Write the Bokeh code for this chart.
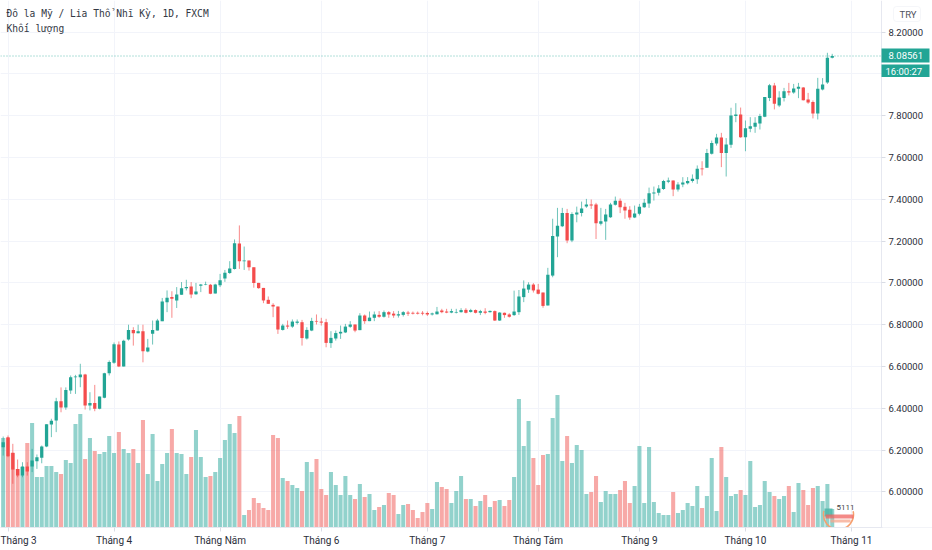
from bokeh.plotting import figure
from bokeh.embed import file_html
from bokeh.resources import INLINE
from bokeh.models import (ColumnDataSource, FixedTicker, Range1d, Label, Span, BoxAnnotation)

# ---- data: USD/TRY daily, index 0 = first session of March 2020
first_index = -1
opens = [6.214,6.262,6.187,6.110,6.078,6.121,6.121,6.147,6.163,6.217,6.322,6.342,6.434,6.404,6.485,6.549,6.549,6.562,6.413,6.425,6.398,6.45,6.568,6.618,6.705,6.60,6.729,6.775,6.759,6.769,6.672,6.757,6.772,6.817,6.908,6.932,6.916,
         6.943,6.975,6.983,6.946,6.986,6.990,6.991,6.949,6.989,7.021,7.047,7.067,7.189,7.104,7.107,7.075,7.0,6.976,6.919,6.895,6.887,6.775,6.796,6.791,6.809,6.812,6.734,6.772,6.818,6.815,6.812,6.712,6.734,6.758,6.763,6.79,
         6.801,6.774,6.844,6.817,6.833,6.847,6.838,6.86,6.853,6.844,6.847,6.858,6.857,6.857,6.857,6.856,6.849,6.85,6.868,6.863,6.858,6.858,6.86,6.871,6.861,6.87,6.857,6.863,6.86,6.865,6.82,6.857,6.849,6.846,6.86,6.932,6.968,6.992,6.968,6.954,6.892,7.035,7.222,7.271,7.334,7.203,7.327,7.334,7.365,7.375,7.375,7.283,7.294,7.314,7.374,
         7.393,7.364,7.35,7.313,7.331,7.362,7.38,7.428,7.431,7.449,7.484,7.49,7.447,7.471,7.477,7.487,7.496,7.547,7.551,7.618,7.667,7.696,7.621,7.661,7.798,7.806,7.697,7.737,7.747,7.763,7.795,7.885,7.945,7.849,7.885,7.917,7.911,7.929,7.935,7.878,7.866,7.811,7.925,7.959,8.077]
highs = [6.265,6.270,6.23,6.155,6.142,6.142,6.206,6.179,6.222,6.324,6.35,6.45,6.50,6.50,6.557,6.56,6.613,6.565,6.477,6.512,6.456,6.57,6.629,6.715,6.72,6.728,6.80,6.788,6.80,6.80,6.732,6.82,6.828,6.928,6.964,6.96,6.98,
         7.004,7.015,7.004,7.0,6.995,7.006,6.995,6.996,7.043,7.062,7.104,7.208,7.275,7.174,7.107,7.075,7.0,6.976,6.935,6.903,6.887,6.804,6.82,6.825,6.825,6.823,6.788,6.833,6.849,6.833,6.828,6.769,6.772,6.796,6.804,6.817,
         6.801,6.855,6.849,6.863,6.863,6.865,6.868,6.865,6.865,6.866,6.865,6.866,6.863,6.863,6.865,6.863,6.858,6.885,6.876,6.876,6.876,6.876,6.879,6.879,6.876,6.873,6.871,6.879,6.868,6.868,6.86,6.858,6.855,6.963,6.966,7.012,7.003,6.999,6.995,6.954,7.072,7.307,7.359,7.359,7.354,7.338,7.365,7.389,7.402,7.399,7.383,7.359,7.354,7.383,7.413,
         7.404,7.383,7.367,7.37,7.378,7.402,7.456,7.461,7.468,7.493,7.504,7.49,7.482,7.506,7.506,7.519,7.562,7.582,7.641,7.681,7.713,7.718,7.693,7.838,7.86,7.839,7.777,7.793,7.793,7.809,7.889,7.952,7.957,7.917,7.933,7.957,7.952,7.957,7.937,7.909,7.873,7.981,7.98,8.101,8.096]
lows = [6.174,6.166,6.039,6.07,6.07,6.078,6.095,6.11,6.137,6.214,6.262,6.286,6.381,6.393,6.469,6.469,6.501,6.394,6.39,6.386,6.395,6.448,6.557,6.613,6.597,6.60,6.724,6.70,6.759,6.62,6.668,6.705,6.772,6.817,6.86,6.833,6.88,
        6.943,6.964,6.927,6.943,6.956,6.989,6.946,6.949,6.98,7.005,7.043,7.064,7.067,7.062,7.059,6.977,6.972,6.903,6.9,6.836,6.756,6.772,6.78,6.785,6.801,6.7,6.729,6.769,6.801,6.796,6.692,6.689,6.724,6.732,6.76,6.785,
        6.764,6.774,6.804,6.817,6.817,6.833,6.834,6.833,6.833,6.834,6.839,6.842,6.849,6.849,6.845,6.842,6.844,6.849,6.855,6.855,6.855,6.854,6.858,6.854,6.858,6.854,6.846,6.85,6.858,6.818,6.818,6.833,6.834,6.842,6.847,6.908,6.952,6.954,6.945,6.881,6.892,7.027,7.123,7.267,7.19,7.195,7.29,7.318,7.359,7.354,7.21,7.275,7.206,7.311,7.37,
        7.334,7.307,7.302,7.31,7.323,7.359,7.359,7.394,7.418,7.445,7.477,7.415,7.437,7.458,7.471,7.48,7.474,7.514,7.551,7.614,7.657,7.554,7.509,7.646,7.769,7.694,7.63,7.721,7.718,7.734,7.793,7.87,7.83,7.841,7.868,7.897,7.905,7.884,7.873,7.857,7.787,7.782,7.921,7.952,8.074]
closes = [6.238,6.171,6.107,6.078,6.121,6.098,6.15,6.166,6.217,6.324,6.34,6.434,6.404,6.487,6.549,6.552,6.562,6.413,6.425,6.398,6.456,6.568,6.622,6.707,6.60,6.723,6.775,6.759,6.769,6.673,6.691,6.775,6.82,6.911,6.929,6.924,6.945,
          6.975,6.981,6.944,6.959,6.992,6.992,6.948,6.992,7.013,7.048,7.069,7.19,7.104,7.107,7.075,6.999,6.975,6.916,6.9,6.887,6.777,6.796,6.791,6.815,6.815,6.736,6.775,6.818,6.815,6.81,6.713,6.737,6.76,6.766,6.791,6.801,
          6.772,6.844,6.817,6.834,6.849,6.838,6.86,6.849,6.844,6.85,6.86,6.853,6.853,6.853,6.853,6.849,6.854,6.863,6.86,6.858,6.865,6.861,6.87,6.857,6.87,6.857,6.865,6.857,6.866,6.82,6.858,6.846,6.838,6.863,6.935,6.973,6.992,6.964,6.948,6.89,7.039,7.224,7.274,7.334,7.203,7.33,7.337,7.356,7.375,7.37,7.286,7.295,7.327,7.375,7.393,
          7.362,7.346,7.313,7.332,7.364,7.383,7.429,7.433,7.452,7.488,7.49,7.447,7.471,7.48,7.488,7.498,7.546,7.544,7.621,7.669,7.696,7.622,7.662,7.801,7.806,7.697,7.74,7.75,7.766,7.798,7.889,7.946,7.857,7.887,7.917,7.911,7.93,7.938,7.874,7.863,7.811,7.929,7.949,8.077,8.086]
volumes = [89,89,74,58,60,84,104,50,50,61,61,55,53,67,64,103,113,68,89,76,73,75,91,74,95,78,74,78,64,107,53,93,46,63,74,98,74,73,53,70,97,70,50,51,55,69,87,103,
           94,111,12,17,29,24,19,17,92,89,49,46,42,39,36,65,55,68,38,32,55,42,32,51,32,28,43,30,33,17,20,22,34,32,13,22,23,17,9,15,24,18,45,40,38,24,36,51,28,28,21,26,32,20,26,27,21,27,50,128,81,106,
           69,42,72,73,109,132,66,91,64,82,77,33,35,51,25,36,33,33,37,46,24,41,81,24,80,25,14,12,12,35,14,17,24,21,41,19,31,69,16,80,50,31,33,37,32,66,20,22,46,35,31,28,31,41,15,44,37,22,39,41,26,43,18]
month_ticks = [0, 22, 44, 65, 87, 110, 131, 153, 175]
month_labels = ["Tháng 3", "Tháng 4", "Tháng Năm", "Tháng 6", "Tháng 7", "Tháng Tám", "Tháng 9", "Tháng 10", "Tháng 11"]
price_ticks = [6.0, 6.2, 6.4, 6.6, 6.8, 7.0, 7.2, 7.4, 7.6, 7.8, 8.0, 8.2]
last_price = 8.08561
title_text = "Đô la Mỹ / Lia Thổ Nhĩ Kỳ, 1D, FXCM"
volume_text = "Khối lượng"

UP, DOWN = "#22a595", "#f44c4c"
UP_V, DOWN_V = "#26a69a", "#ef5350"
GRID = "#f2f4fa"
TXT = "#2a2e39"

n = len(opens)
idx = [first_index + k for k in range(n)]
is_up = [c >= o for o, c in zip(opens, closes)]
src = ColumnDataSource(dict(
    x=idx, o=opens, h=highs, l=lows, c=closes, v=volumes,
    top=[max(a, b) for a, b in zip(opens, closes)],
    bot=[min(a, b) for a, b in zip(opens, closes)],
    col=[UP if u else DOWN for u in is_up],
    vcol=[UP_V if u else DOWN_V for u in is_up],
))

W, H, AX_X, FB = 932, 550, 881, 527
BAR_PX, X0_PX = 4.82, 7.5
x_of = lambda px: (px - X0_PX) / BAR_PX

p = figure(width=W, height=H, output_backend="svg", toolbar_location=None,
           x_range=Range1d(x_of(0), x_of(W)), y_range=Range1d(5.8297, 8.3512),
           y_axis_location="right", min_border_left=0, min_border_top=0,
           min_border_right=0, min_border_bottom=H - FB)
p.outline_line_color = None
p.extra_y_ranges = {"vol": Range1d(-0.5, 526.5)}

p.vbar(x="x", top="v", bottom=0, width=0.84, source=src, y_range_name="vol",
       fill_color="vcol", line_color=None, fill_alpha=0.5)
p.segment(x0="x", x1="x", y0="l", y1="h", source=src, line_color="col", line_width=1, line_alpha=0.65)
p.vbar(x="x", top="top", bottom="bot", width=0.68, source=src, fill_color="col", line_color=None)

p.xgrid.ticker = FixedTicker(ticks=month_ticks)
p.ygrid.ticker = FixedTicker(ticks=price_ticks)
p.xgrid.grid_line_color = GRID
p.ygrid.grid_line_color = GRID

xa, ya = p.xaxis[0], p.yaxis[0]
ya.fixed_location = x_of(AX_X)
xa.ticker = FixedTicker(ticks=month_ticks)
xa.major_label_overrides = dict(zip(month_ticks, month_labels))
ya.ticker = FixedTicker(ticks=price_ticks)
ya.major_label_overrides = {t: f"{t:.5f}" for t in price_ticks}
for ax in (xa, ya):
    ax.axis_line_color = "#e6e8f0"
    ax.major_tick_line_color = "#d9dce5"
    ax.minor_tick_line_color = None
    ax.major_tick_out = 4
    ax.major_tick_in = 0
    ax.major_label_text_font = "Roboto"
    ax.major_label_text_color = TXT
xa.major_label_text_font_size = "10px"
ya.major_label_text_font_size = "9.5px"
xa.major_label_standoff = 3
ya.major_label_standoff = 3

p.add_layout(Span(location=last_price, dimension="width", line_color="#22a595",
                  line_dash="1 2", line_width=1, line_alpha=0.7, level="underlay"))

def box(left, right, ytop, ybot, color, alpha=1.0, level="annotation", line=None, radius=0):
    p.add_layout(BoxAnnotation(left=left, right=right, top=FB - ytop, bottom=FB - ybot,
                               top_units="screen", bottom_units="screen",
                               left_units="screen", right_units="screen",
                               fill_color=color, fill_alpha=alpha, line_color=line,
                               border_radius=radius, level=level))

def label(text, x, y, size, font="Roboto", color=TXT, baseline="middle"):
    p.add_layout(Label(x=x, y=FB - y, x_units="screen", y_units="screen", text=text,
                text_font=font, text_font_size=size, text_color=color,
                text_baseline=baseline))

# the price-scale strip: hides grid lines to the right of the axis
box(AX_X, W, 0, FB, "white", level="glyph")
box(AX_X + 1, W, FB - 1, FB + 2, "white")

label(title_text, 6, 13, "9.6px", font="DejaVu Sans Mono", color="#333844")
label(volume_text, 6, 27.5, "9.6px", font="DejaVu Sans Mono", color="#333844")

box(893, 920, 6, 21, "white", line="#dfe2ea", radius=3)
label("TRY", 899, 13.5, "9.5px", color="#50535e")
box(881, 929, 48, 62, UP)
label(f"{last_price:.5f}", 888, 55, "9.5px", color="white")
box(881, 929, 64, 76.5, UP)
label("16:00:27", 885, 70.5, "9.5px", color="white")

# small watermark badge over the last volume bars
box(824, 832, 508, 516, "#4db6a8", alpha=0.85)
box(825, 853, 514, 518, "#f0635f", alpha=0.75)
box(830, 850, 519, 522, "#f6a58c", alpha=0.75)
label("5111", 836, 506.5, "8px", color="#444444")
p.arc(x=[x_of(838)], y=[12.5], radius=15, radius_units="screen", y_range_name="vol",
      start_angle=2.9, end_angle=6.5, line_color="#f6a06e", line_width=1.5)

open("out.html", "w").write(file_html(p, INLINE))
